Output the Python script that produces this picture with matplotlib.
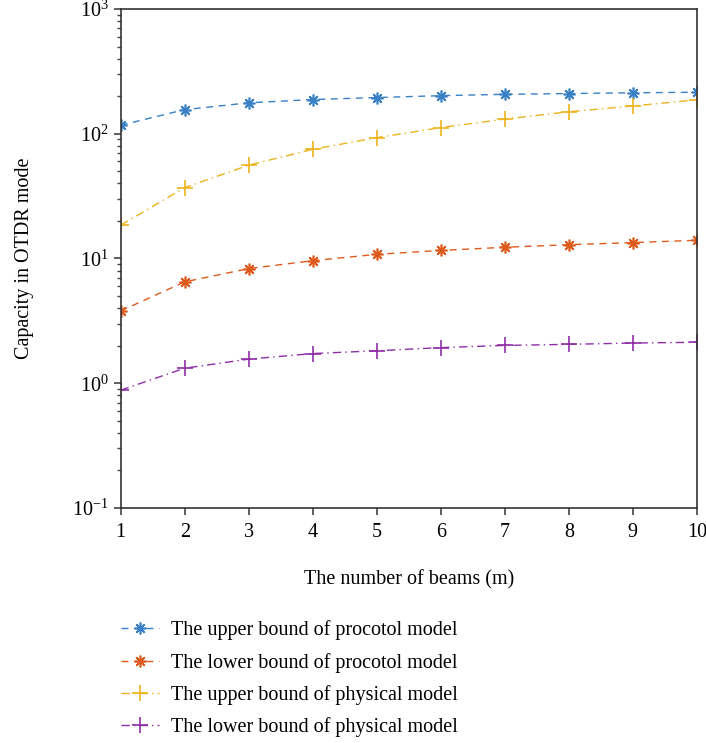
import matplotlib
matplotlib.use("Agg")
import matplotlib.pyplot as plt
import numpy as np

plt.rcParams["font.family"] = ["Liberation Serif", "DejaVu Serif"]
plt.rcParams["mathtext.fontset"] = "custom"
plt.rcParams["mathtext.rm"] = "Liberation Serif"
plt.rcParams["mathtext.default"] = "rm"

beams = [1, 2, 3, 4, 5, 6, 7, 8, 9, 10]
upper_protocol = [117, 156, 177, 188, 195, 202, 207, 210, 213, 215]
lower_protocol = [3.8, 6.5, 8.3, 9.6, 10.8, 11.6, 12.3, 12.9, 13.4, 14.0]
upper_physical = [18.5, 37, 56, 75, 93, 112, 131, 150, 167, 187]
lower_physical = [0.88, 1.32, 1.56, 1.73, 1.82, 1.93, 2.01, 2.05, 2.10, 2.13]

labels = ["The upper bound of procotol model",
          "The lower bound of procotol model",
          "The upper bound of physical model",
          "The lower bound of physical model"]

fs = 14.5
star = (8, 2, 0)

fig = plt.figure(figsize=(7.06, 7.43), dpi=100)
ax = fig.add_axes([0.171, 0.3163, 0.816, 0.6716])

ax.plot(beams, upper_protocol, color="#3a80c6", ls=(0, (5, 4)), lw=1.0,
        marker=star, ms=8.5, mew=1.2, label=labels[0])
ax.plot(beams, lower_protocol, color="#de5a1c", ls=(0, (5, 4)), lw=1.0,
        marker=star, ms=8.5, mew=1.2, label=labels[1])
ax.plot(beams, upper_physical, color="#ecb31c", ls=(0, (6, 3, 1, 3)), lw=1.0,
        marker="+", ms=11, mew=1.2, label=labels[2])
ax.plot(beams, lower_physical, color="#8e2fa6", ls=(0, (6, 3, 1, 3)), lw=1.0,
        marker="+", ms=11, mew=1.2, label=labels[3])

ax.set_yscale("log")
ax.set_ylim(0.1, 1000)
ax.set_xlim(1, 10)
ax.set_xticks(beams)
ax.tick_params(labelsize=fs, direction="out", length=5, width=1.2, color="#444444")
ax.tick_params(which="minor", length=3, width=1.0, color="#444444")
ax.tick_params(axis="x", pad=6)
for sp in ax.spines.values():
    sp.set_linewidth(1.2)
    sp.set_color("#333333")

ax.set_xlabel("The number of beams (m)", fontsize=fs, labelpad=20)
ax.set_ylabel("Capacity in OTDR mode", fontsize=fs, labelpad=28)

fig.legend(loc="upper left", bbox_to_anchor=(0.160, 0.176), frameon=False,
           fontsize=fs, handlelength=1.9, labelspacing=0.62, handletextpad=0.6,
           borderaxespad=0)

fig.savefig("out.png", dpi=100)
